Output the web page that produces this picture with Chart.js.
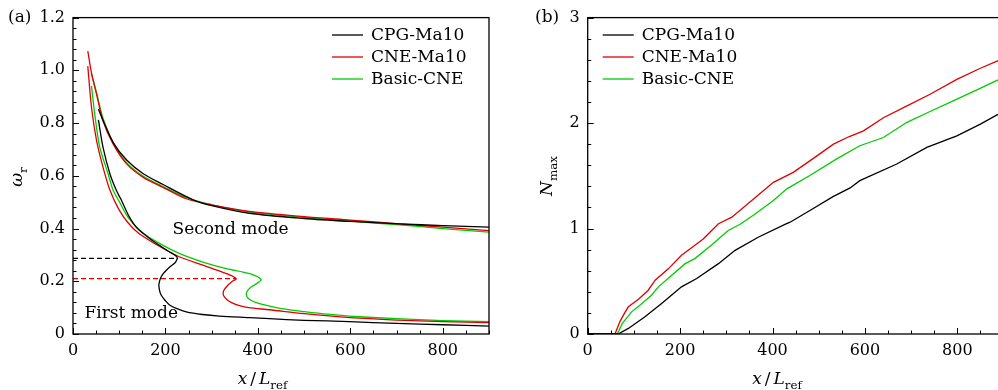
<!DOCTYPE html>
<html>
<head>
<meta charset="utf-8">
<script src="https://cdn.jsdelivr.net/npm/chart.js@4.4.0/dist/chart.umd.min.js"></script>
<style>
html, body { margin: 0; padding: 0; background: #fff; overflow: hidden; width: 998px; height: 390px; }
#wa { position: absolute; left: 0; top: 0; }
#wb { position: absolute; left: 500px; top: 0; }
</style>
</head>
<body>
<div id="wa"><canvas id="chartA" width="500" height="390"></canvas></div>
<div id="wb"><canvas id="chartB" width="510" height="390"></canvas></div>
<script>
// series names + colours
var seriesNames = ['CPG-Ma10', 'CNE-Ma10', 'Basic-CNE'];
var seriesColors = ['#000000', 'rgb(225,0,0)', 'rgb(0,205,0)'];

// (a) second mode
var cpgSecondX = [55, 65, 87, 116, 152, 195, 260, 300, 382, 500, 600, 706, 800, 900];
var cpgSecondY = [0.853, 0.81, 0.726, 0.66, 0.608, 0.567, 0.509, 0.487, 0.458, 0.438, 0.427, 0.418, 0.411, 0.405];
var cneSecondX = [32, 40, 51, 65, 87, 116, 152, 195, 245, 300, 382, 500, 600, 706, 800, 900];
var cneSecondY = [1.073, 0.99, 0.909, 0.808, 0.72, 0.645, 0.594, 0.556, 0.513, 0.49, 0.465, 0.445, 0.432, 0.418, 0.405, 0.392];
var basicSecondX = [40, 51, 65, 87, 116, 152, 195, 249, 300, 382, 500, 600, 706, 800, 900];
var basicSecondY = [0.987, 0.915, 0.818, 0.726, 0.65, 0.598, 0.559, 0.515, 0.49, 0.463, 0.442, 0.428, 0.414, 0.4, 0.386];

// (a) first mode
var cpgFirstX = [55, 65, 80, 94, 104, 120, 137, 160, 181, 209, 225, 222, 212, 202, 194, 189, 186, 186, 188, 191, 199, 209, 225, 245, 280, 317, 382, 425, 500, 598, 700, 800, 900];
var cpgFirstY = [0.812, 0.708, 0.607, 0.544, 0.51, 0.45, 0.405, 0.37, 0.343, 0.311, 0.292, 0.273, 0.258, 0.242, 0.226, 0.21, 0.19, 0.179, 0.16, 0.147, 0.128, 0.11, 0.096, 0.084, 0.074, 0.068, 0.062, 0.058, 0.052, 0.047, 0.04, 0.035, 0.03];
var cneFirstX = [32, 40, 51, 65, 80, 100, 120, 140, 170, 200, 231, 281, 332, 353, 345, 335, 328, 325, 326, 332, 342, 360, 380, 425, 500, 600, 700, 800, 900];
var cneFirstY = [1.016, 0.86, 0.733, 0.632, 0.545, 0.47, 0.42, 0.385, 0.35, 0.32, 0.292, 0.261, 0.229, 0.21, 0.2, 0.185, 0.17, 0.158, 0.145, 0.132, 0.12, 0.108, 0.1, 0.092, 0.077, 0.062, 0.053, 0.047, 0.043];
var basicFirstX = [40, 47, 58, 76, 87, 98, 120, 150, 188, 231, 281, 332, 382, 407, 398, 386, 378, 375, 377, 383, 395, 410, 430, 460, 500, 550, 598, 700, 800, 900];
var basicFirstY = [0.941, 0.834, 0.708, 0.607, 0.544, 0.509, 0.44, 0.385, 0.343, 0.305, 0.273, 0.248, 0.229, 0.207, 0.192, 0.179, 0.165, 0.152, 0.14, 0.13, 0.12, 0.112, 0.104, 0.094, 0.085, 0.075, 0.068, 0.058, 0.051, 0.047];

// (a) dashed guide lines
var cpgDashX = [0, 227];
var cpgDashY = [0.287, 0.287];
var cneDashX = [0, 353];
var cneDashY = [0.21, 0.21];

// (b) N_max
var cpgNX = [0, 66, 88, 124, 160, 203, 236, 283, 319, 370, 427, 438, 481, 530, 568, 589, 669, 734, 799, 850, 886, 900];
var cpgNY = [0, 0, 0.053, 0.163, 0.29, 0.447, 0.526, 0.667, 0.793, 0.92, 1.04, 1.06, 1.171, 1.3, 1.385, 1.454, 1.612, 1.769, 1.879, 1.99, 2.077, 2.1];
var cneNX = [0, 59, 70, 80, 88, 110, 131, 146, 175, 203, 222, 250, 283, 312, 355, 402, 445, 490, 532, 565, 597, 640, 690, 741, 799, 850, 886, 900];
var cneNY = [0, 0, 0.12, 0.2, 0.258, 0.33, 0.415, 0.51, 0.62, 0.746, 0.809, 0.9, 1.045, 1.108, 1.265, 1.438, 1.533, 1.67, 1.8, 1.87, 1.926, 2.05, 2.16, 2.273, 2.414, 2.52, 2.587, 2.61];
var basicNX = [0, 64, 75, 95, 115, 138, 153, 180, 211, 232, 270, 304, 330, 360, 402, 431, 480, 539, 589, 640, 690, 741, 791, 840, 886, 900];
var basicNY = [0, 0, 0.1, 0.21, 0.28, 0.368, 0.447, 0.55, 0.667, 0.715, 0.85, 0.982, 1.04, 1.13, 1.265, 1.376, 1.5, 1.66, 1.785, 1.863, 2.005, 2.11, 2.21, 2.31, 2.405, 2.43];

var FONT = '"DejaVu Serif", serif';

function zip(xs, ys) {
    return xs.map(function (x, i) { return { x: x, y: ys[i] }; });
}

function line(label, xs, ys, color, dash) {
    return {
        label: label,
        data: zip(xs, ys),
        showLine: true,
        borderColor: color,
        backgroundColor: color,
        borderWidth: 1.3,
        borderDash: dash || [],
        pointRadius: 0,
        tension: dash ? 0 : 0.3,
        fill: false
    };
}

// text with italic/subscript pieces, centred on (cx, cy)
function drawMath(ctx, cx, cy, parts, size) {
    var total = 0;
    parts.forEach(function (p) {
        var s = p.sub ? size * 0.7 : size;
        ctx.font = (p.it ? 'italic ' : '') + s + 'px ' + FONT;
        p.w = ctx.measureText(p.t).width + (p.gap || 0) * 2;
        total += p.w;
    });
    var x = cx - total / 2;
    ctx.textBaseline = 'alphabetic';
    ctx.textAlign = 'left';
    parts.forEach(function (p) {
        var s = p.sub ? size * 0.7 : size;
        ctx.font = (p.it ? 'italic ' : '') + s + 'px ' + FONT;
        ctx.fillText(p.t, x + (p.gap || 0), cy + size * 0.35 + (p.sub ? size * 0.28 : 0));
        x += p.w;
    });
}

var decor = {
    id: 'decor',
    afterDraw: function (chart, args, o) {
        var ctx = chart.ctx, ca = chart.chartArea;
        var xs = chart.scales.x, ys = chart.scales.y;
        ctx.save();
        ctx.strokeStyle = '#000';
        ctx.fillStyle = '#000';
        ctx.lineWidth = 1.3;
        ctx.strokeRect(ca.left, ca.top, ca.right - ca.left, ca.bottom - ca.top);

        // inward ticks
        ctx.lineWidth = 1;
        ctx.beginPath();
        var i, v, p, n;
        n = Math.round(o.xMax / o.xMinor);
        for (i = 0; i <= n; i++) {
            v = i * o.xMinor;
            p = Math.round(xs.getPixelForValue(v)) + 0.5;
            ctx.moveTo(p, ca.bottom);
            ctx.lineTo(p, ca.bottom - (i % o.xEvery === 0 ? 6 : 3.5));
        }
        n = Math.round(o.yMax / o.yMinor);
        for (i = 0; i <= n; i++) {
            v = i * o.yMinor;
            p = Math.round(ys.getPixelForValue(v)) + 0.5;
            ctx.moveTo(ca.left, p);
            ctx.lineTo(ca.left + (i % o.yEvery === 0 ? 6 : 3.5), p);
        }
        ctx.stroke();

        // legend
        ctx.font = '17px ' + FONT;
        ctx.textBaseline = 'middle';
        ctx.textAlign = 'left';
        seriesNames.forEach(function (name, k) {
            var y = o.legY + k * 22;
            ctx.strokeStyle = seriesColors[k];
            ctx.lineWidth = 1.3;
            ctx.beginPath();
            ctx.moveTo(o.legX, y);
            ctx.lineTo(o.legX + 31, y);
            ctx.stroke();
            ctx.fillStyle = '#000';
            ctx.fillText(name, o.legX + 39, y + 1);
        });

        // panel tag
        ctx.font = '17px ' + FONT;
        ctx.fillText(o.tag, o.tagX, 18);

        // axis titles
        drawMath(ctx, xs.getPixelForValue(410), 378, [
            { t: 'x', it: true }, { t: '/', gap: 3 }, { t: 'L', it: true }, { t: 'ref', sub: true }
        ], 17);
        ctx.save();
        ctx.translate(o.yTitleX, o.yTitleY);
        ctx.rotate(-Math.PI / 2);
        drawMath(ctx, 0, 0, o.yTitle, 17);
        ctx.restore();

        // annotations
        ctx.font = '17px ' + FONT;
        ctx.textAlign = 'center';
        ctx.textBaseline = 'middle';
        (o.notes || []).forEach(function (nt) {
            ctx.fillText(nt.t, xs.getPixelForValue(nt.x), ys.getPixelForValue(nt.y));
        });
        ctx.restore();
    }
};

function makeOptions(yMax, yStep, yFmt, yWidth, padRight, decorOpts) {
    return {
        responsive: false,
        animation: false,
        events: [],
        layout: { padding: { top: 17, right: padRight, left: 0, bottom: 0 } },
        plugins: { legend: { display: false }, tooltip: { enabled: false }, decor: decorOpts },
        scales: {
            x: {
                type: 'linear', min: 0, max: 900,
                grid: { display: false, drawTicks: false }, border: { display: false },
                ticks: { stepSize: 200, includeBounds: false, padding: 7, maxRotation: 0, color: '#000', font: { family: FONT, size: 16 } },
                afterFit: function (s) { s.height = 56; }
            },
            y: {
                type: 'linear', min: 0, max: yMax,
                grid: { display: false, drawTicks: false }, border: { display: false },
                ticks: { stepSize: yStep, padding: 8, color: '#000', font: { family: FONT, size: 16 }, callback: yFmt },
                afterFit: function (s) { s.width = yWidth; }
            }
        }
    };
}

var chartA = new Chart(document.getElementById('chartA'), {
    type: 'scatter',
    plugins: [decor],
    data: {
        datasets: [
            line(seriesNames[0] + ' 2nd', cpgSecondX, cpgSecondY, seriesColors[0]),
            line(seriesNames[0] + ' 1st', cpgFirstX, cpgFirstY, seriesColors[0]),
            line(seriesNames[1] + ' 2nd', cneSecondX, cneSecondY, seriesColors[1]),
            line(seriesNames[1] + ' 1st', cneFirstX, cneFirstY, seriesColors[1]),
            line(seriesNames[2] + ' 2nd', basicSecondX, basicSecondY, seriesColors[2]),
            line(seriesNames[2] + ' 1st', basicFirstX, basicFirstY, seriesColors[2]),
            line('cpg dash', cpgDashX, cpgDashY, seriesColors[0], [5, 3]),
            line('cne dash', cneDashX, cneDashY, seriesColors[1], [5, 3])
        ]
    },
    options: makeOptions(1.2, 0.2, function (v) { return v === 0 ? '0' : v.toFixed(1); }, 73, 11, {
        xMax: 900, xMinor: 50, xEvery: 4, yMax: 1.2, yMinor: 0.04, yEvery: 5,
        legX: 332, legY: 35, tag: '(a)', tagX: 8,
        yTitleX: 16, yTitleY: 177,
        yTitle: [{ t: 'ω', it: true }, { t: 'r', sub: true }],
        notes: [{ t: 'Second mode', x: 341, y: 0.395 }, { t: 'First mode', x: 126, y: 0.078 }]
    })
});

var chartB = new Chart(document.getElementById('chartB'), {
    type: 'scatter',
    plugins: [decor],
    data: {
        datasets: [
            line(seriesNames[0], cpgNX, cpgNY, seriesColors[0]),
            line(seriesNames[1], cneNX, cneNY, seriesColors[1]),
            line(seriesNames[2], basicNX, basicNY, seriesColors[2])
        ].map(function (d) { d.tension = 0; return d; })
    },
    options: makeOptions(3, 1, function (v) { return String(v); }, 87.7, 6.5, {
        xMax: 900, xMinor: 50, xEvery: 4, yMax: 3, yMinor: 0.2, yEvery: 5,
        legX: 102.7, legY: 35, tag: '(b)', tagX: 35,
        yTitleX: 46, yTitleY: 176,
        yTitle: [{ t: 'N', it: true }, { t: 'max', sub: true }]
    })
});
</script>
</body>
</html>
